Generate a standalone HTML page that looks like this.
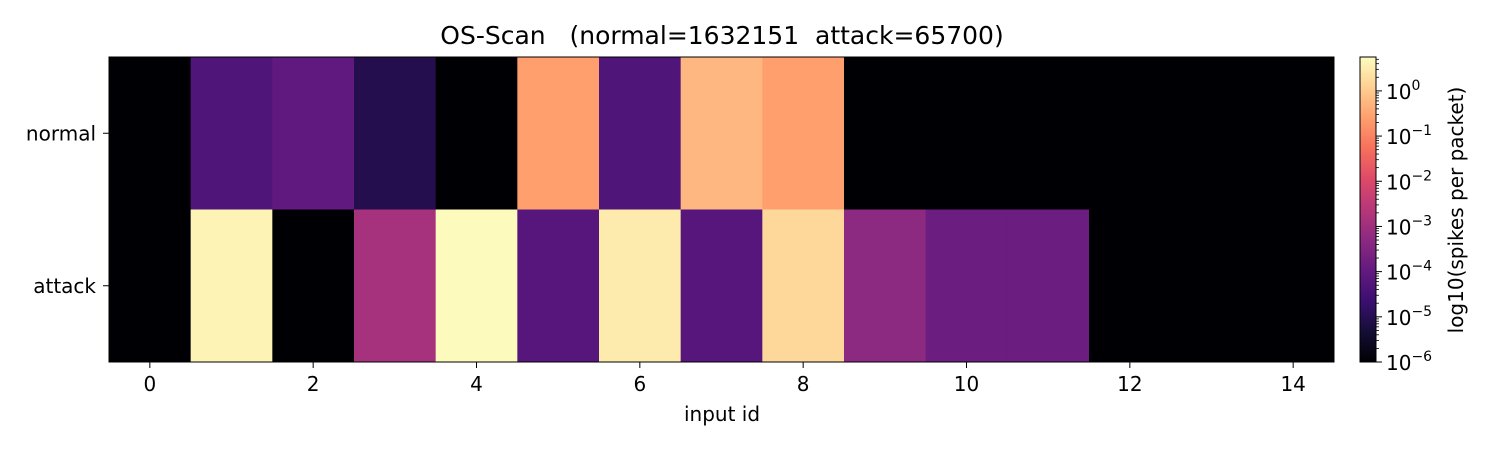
<!DOCTYPE html>
<html><head><meta charset="utf-8"><style>
html,body{margin:0;padding:0;background:#fff;}
svg text{font-family:"DejaVu Sans","Liberation Sans",sans-serif;fill:#000;}
</style></head><body>
<svg id="chart" width="1500" height="450" viewBox="0 0 1500 450" xmlns="http://www.w3.org/2000/svg">
<defs>
<linearGradient id="magma" x1="0" y1="1" x2="0" y2="0">
<stop offset="0" stop-color="#000004"/><stop offset="0.1" stop-color="#140e36"/>
<stop offset="0.2" stop-color="#3b0f70"/><stop offset="0.3" stop-color="#641a80"/>
<stop offset="0.4" stop-color="#8c2981"/><stop offset="0.5" stop-color="#b73779"/>
<stop offset="0.6" stop-color="#de4968"/><stop offset="0.7" stop-color="#f7705c"/>
<stop offset="0.8" stop-color="#fe9f6d"/><stop offset="0.9" stop-color="#fecf92"/>
<stop offset="1" stop-color="#fcfdbf"/>
</linearGradient>
</defs>
<text x="722" y="44" font-size="25" text-anchor="middle" xml:space="preserve">OS-Scan   (normal=1632151  attack=65700)</text>
<g id="cells"></g>
<rect x="109" y="57" width="1225" height="305" fill="none" stroke="#000" stroke-width="1"/>
<g id="axes"></g>
<text x="722" y="421" font-size="20" text-anchor="middle">input id</text>
<rect x="1360" y="57" width="16" height="305" fill="url(#magma)" stroke="#000" stroke-width="1"/>
<g id="cbar"></g>
<text transform="translate(1463,210) rotate(-90)" font-size="20" text-anchor="middle">log10(spikes per packet)</text>
</svg>
<script>
const rows = ["normal", "attack"];
const inputIds = [0,1,2,3,4,5,6,7,8,9,10,11,12,13,14];
const normalValues = [0, 4.9e-5, 9.1e-5, 8.9e-6, 0, 0.25, 5e-5, 0.55, 0.25, 0, 0, 0, 0, 0, 0];
const attackValues = [0, 4.0, 0, 1.26e-3, 5.2, 6.3e-5, 3.0, 6.3e-5, 1.6, 5e-4, 1.45e-4, 1.45e-4, 0, 0, 0];
const xTicks = [0,2,4,6,8,10,12,14];
const cbarExps = [-6,-5,-4,-3,-2,-1,0];
const vmin = -6, vmax = 0.75;

const NS = "http://www.w3.org/2000/svg";
const X0 = 109, X1 = 1334, Y0 = 57, Y1 = 362;
const cw = (X1 - X0) / inputIds.length, rh = (Y1 - Y0) / rows.length;
const xPos = i => X0 + (i + 0.5) * cw;
const yPos = r => Y0 + (r + 0.5) * rh;
const cbY = lg => Y1 - (lg - vmin) / (vmax - vmin) * (Y1 - Y0);
const stops = ["#000004","#140e36","#3b0f70","#641a80","#8c2981","#b73779","#de4968","#f7705c","#fe9f6d","#fecf92","#fcfdbf"];
function hex(h){return [1,3,5].map(k=>parseInt(h.substr(k,2),16));}
function color(v){
  let lg = v > 0 ? Math.log10(v) : vmin;
  let t = Math.max(0, Math.min(1, (lg - vmin) / (vmax - vmin)));
  let s = t * 10, i = Math.min(9, Math.floor(s)), f = s - i;
  let a = hex(stops[i]), b = hex(stops[i+1]);
  return "rgb(" + a.map((c,k)=>Math.round(c + (b[k]-c)*f)).join(",") + ")";
}
function mk(tag, attrs, parent){
  const e = document.createElementNS(NS, tag);
  for (const k in attrs) e.setAttribute(k, attrs[k]);
  parent.appendChild(e); return e;
}
const cells = document.getElementById("cells");
[normalValues, attackValues].forEach((vals, r) => {
  vals.forEach((v, i) => {
    const el = mk("rect", {x: xPos(inputIds[i]) - cw/2, y: yPos(r) - rh/2, width: cw + 0.5, height: rh + 0.5, fill: color(v)}, cells);
    
    
  });
});
const axes = document.getElementById("axes");
xTicks.forEach(t => {
  const x = xPos(t);
  mk("line", {x1: x, x2: x, y1: Y1, y2: Y1 + 6, stroke: "#000"}, axes);
  const tx = mk("text", {x: x, y: Y1 + 29, "font-size": 20, "text-anchor": "middle"}, axes);
  tx.textContent = t;
  
  
});
rows.forEach((name, r) => {
  const y = yPos(r);
  mk("line", {x1: X0 - 6, x2: X0, y1: y, y2: y, stroke: "#000"}, axes);
  const tx = mk("text", {x: X0 - 13, y: y + 7, "font-size": 20, "text-anchor": "end"}, axes);
  tx.textContent = name;
  
  
});
const cb = document.getElementById("cbar");
for (let e = -6; e <= 0; e++) {
  const y = cbY(e);
  mk("line", {x1: 1376, x2: 1382, y1: y, y2: y, stroke: "#000"}, cb);
  for (let m = 2; m <= 9; m++) {
    const ly = e + Math.log10(m);
    if (ly > vmax) break;
    const yy = cbY(ly);
    mk("line", {x1: 1376, x2: 1379, y1: yy, y2: yy, stroke: "#000", "stroke-width": 0.8}, cb);
  }
}
cbarExps.forEach(e => {
  const y = cbY(e);
  const tx = mk("text", {x: 1386, y: y + 8, "font-size": 20}, cb);
  
  
  tx.textContent = "10";
  const sp = mk("tspan", {dy: -9, "font-size": 14}, tx);
  sp.textContent = e < 0 ? "\u2212" + (-e) : String(e);
});
</script>
</body></html>
